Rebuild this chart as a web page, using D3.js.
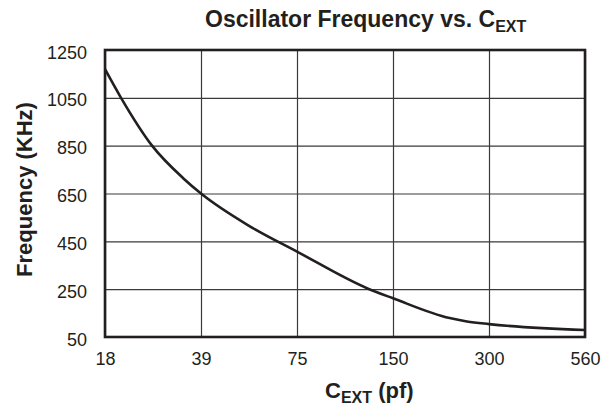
<!DOCTYPE html>
<html>
<head>
<meta charset="utf-8">
<script src="https://cdn.jsdelivr.net/npm/d3@7"></script>
<style>
  html, body { margin: 0; padding: 0; background: #fff; }
  svg { display: block; font-family: "Liberation Sans", Arial, Helvetica, sans-serif; }
</style>
</head>
<body>
<svg id="chart" width="615" height="408"></svg>
<script>
// Category labels of the x axis (C_EXT in pF), evenly spaced
const capCategories = ["18", "39", "75", "150", "300", "560"];
// Y tick labels (KHz)
const freqTicks = [50, 250, 450, 650, 850, 1050, 1250];
// Curve: position along the category axis (0 = "18", 5 = "560") and frequency
const curvePos = [0, 0.167, 0.49, 0.82, 1, 1.5, 2, 2.74, 3, 3.59, 3.77, 4, 5];
const curveKHz = [1170, 1050, 850, 712, 650, 515, 407, 252, 212, 129, 115, 104, 79];

(function () {
const svg = d3.select("#chart");
const pL = 105, pR = 585, pT = 50, pB = 337;
const ink = "#231f20";

const x = d3.scaleLinear().domain([0, capCategories.length - 1]).range([pL, pR]);
const y = d3.scaleLinear().domain([50, 1250]).range([pB, pT]);

// Y axis with horizontal gridlines
const yAxis = svg.append("g")
  .attr("transform", `translate(${pL},0)`)
  .call(d3.axisLeft(y).tickValues(freqTicks).tickFormat(d3.format("d"))
    .tickSize(-(pR - pL)).tickPadding(18));
yAxis.select(".domain").remove();
yAxis.selectAll(".tick line").attr("stroke", "#3a3a3a").attr("stroke-width", 1.2);
yAxis.selectAll(".tick text")
  .attr("dy", "0.45em")
  .attr("fill", ink)
  .style("font-size", "18px")
  .style("font-family", "'Liberation Sans', Arial, sans-serif");

// X axis with vertical gridlines
const xAxis = svg.append("g")
  .attr("transform", `translate(0,${pB})`)
  .call(d3.axisBottom(x).tickValues(d3.range(capCategories.length))
    .tickFormat(i => capCategories[i]).tickSize(-(pB - pT)).tickPadding(15));
xAxis.select(".domain").remove();
xAxis.selectAll(".tick line").attr("stroke", "#3a3a3a").attr("stroke-width", 1.2);
xAxis.selectAll(".tick text")
  .attr("fill", ink)
  .style("font-size", "18px")
  .style("font-family", "'Liberation Sans', Arial, sans-serif");

// Plot frame
svg.append("rect")
  .attr("x", pL).attr("y", pT)
  .attr("width", pR - pL).attr("height", pB - pT)
  .attr("fill", "none").attr("stroke", ink).attr("stroke-width", 2.6);

// Curve
const pts = curvePos.map((p, i) => [p, curveKHz[i]]);
svg.append("path")
  .datum(pts)
  .attr("fill", "none")
  .attr("stroke", ink)
  .attr("stroke-width", 2.6)
  .attr("stroke-linejoin", "round")
  .attr("d", d3.line().x(d => x(d[0])).y(d => y(d[1])).curve(d3.curveMonotoneX));

// Title
const title = svg.append("text")
  .attr("x", 205).attr("y", 27)
  .attr("fill", ink)
  .style("font-weight", "bold").style("font-size", "23px");
title.append("tspan").text("Oscillator Frequency vs. C");
title.append("tspan").attr("dy", 5).style("font-size", "16px").text("EXT");

// X axis title
const xt = svg.append("text")
  .attr("x", 325).attr("y", 398)
  .attr("fill", ink)
  .style("font-weight", "bold").style("font-size", "22px");
xt.append("tspan").text("C");
xt.append("tspan").attr("dy", 5).style("font-size", "16px").text("EXT");
xt.append("tspan").attr("dy", -5).text(" (pf)");

// Y axis title
svg.append("text")
  .attr("transform", `translate(32,${(pT + pB) / 2 - 4}) rotate(-90)`)
  .attr("text-anchor", "middle")
  .attr("fill", ink)
  .style("font-weight", "bold").style("font-size", "22px")
  .text("Frequency (KHz)");
})();
</script>
</body>
</html>
